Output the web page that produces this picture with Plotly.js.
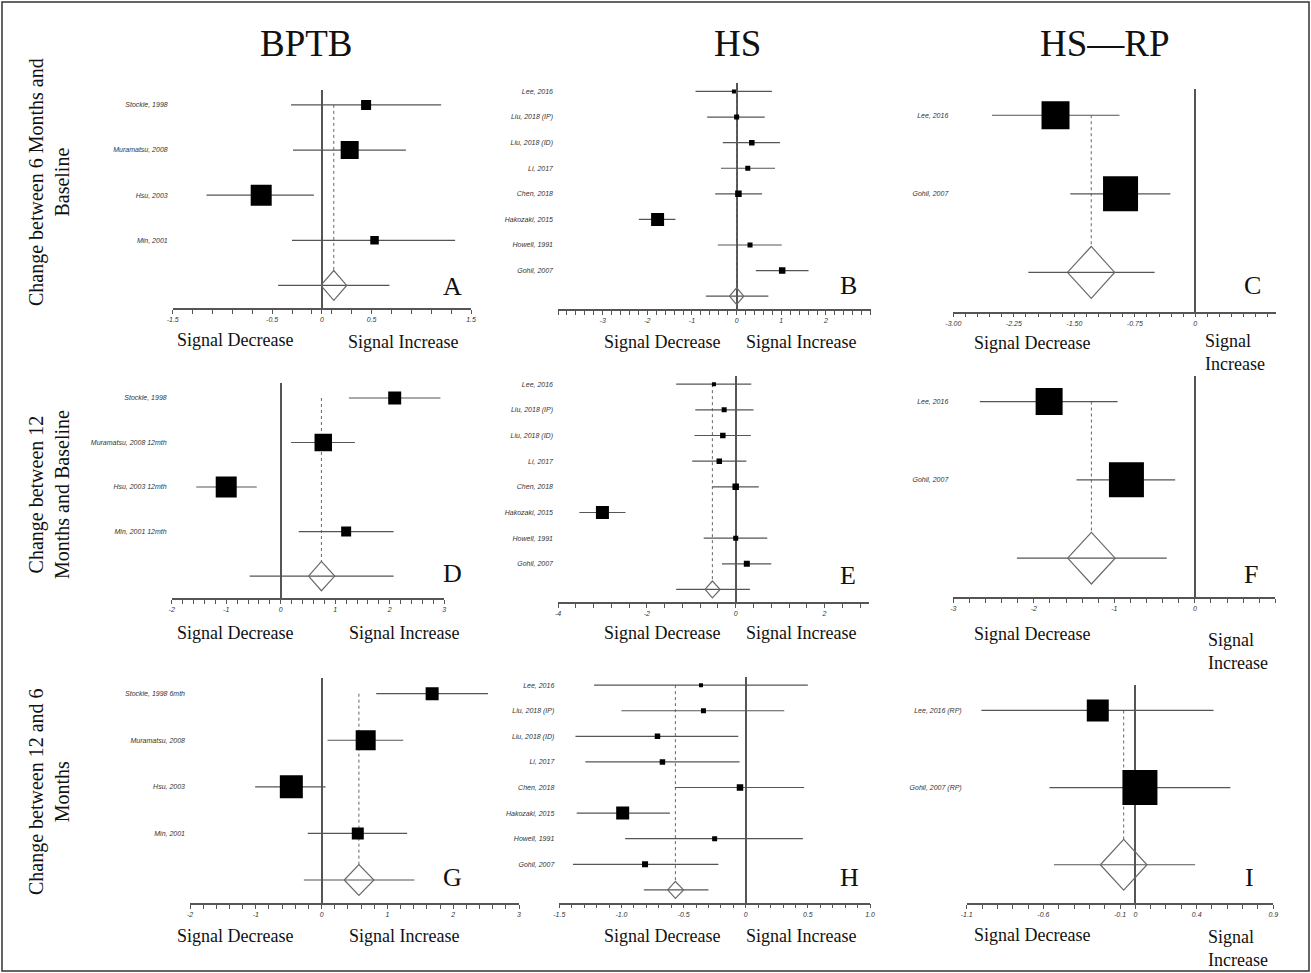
<!DOCTYPE html>
<html>
<head>
<meta charset="utf-8">
<script src="https://cdn.plot.ly/plotly-3.0.1.min.js"></script>
<style>html,body{margin:0;padding:0;background:#fff;}#chart{width:1311px;height:973px;}</style>
</head>
<body>
<div id="chart"></div>
<script>
// ---------------- DATA ----------------
const columnTitles = ["BPTB", "HS", "HS\u2014RP"];
const rowTitles = ["Change between 6 Months and<br>Baseline", "Change between 12<br>Months and Baseline", "Change between 12 and 6<br>Months"];
const panelLetters = ["A","B","C","D","E","F","G","H","I"];

const hsStudies = ["Lee, 2016", "Liu, 2018 (IP)", "Liu, 2018 (ID)", "Li, 2017", "Chen, 2018", "Hakozaki, 2015", "Howell, 1991", "Gohil, 2007"];
const rpStudies = ["Lee, 2016", "Gohil, 2007"];

// Panel A  (BPTB, 6 months vs baseline)
const aStudies = ["Stockle, 1998", "Muramatsu, 2008", "Hsu, 2003", "Min, 2001"];
const aEst = [0.445, 0.28, -0.61, 0.53];
const aLo  = [-0.31, -0.29, -1.16, -0.30];
const aHi  = [1.20, 0.845, -0.08, 1.34];
const aWeight = [10.7, 34.6, 47.1, 7.7];
const aPooled = [0.12, -0.01, 0.25];      // estimate, CI low, CI high
const aInterval = [-0.44, 0.68];
const aTicks = [-1.5, -0.5, 0, 0.5, 1.5];
const aTickText = ["-1.5", "-0.5", "0", "0.5", "1.5"];

// Panel B  (HS, 6 months vs baseline)
const bEst = [-0.06, 0.0, 0.34, 0.25, 0.04, -1.77, 0.30, 1.02];
const bLo  = [-0.92, -0.66, -0.31, -0.35, -0.48, -2.19, -0.42, 0.43];
const bHi  = [0.79, 0.63, 0.97, 0.86, 0.57, -1.37, 1.01, 1.61];
const bWeight = [4.3, 6.7, 8.1, 6.7, 11.3, 45.1, 6.7, 11.3];
const bPooled = [0.0, -0.16, 0.16];
const bInterval = [-0.69, 0.71];
const bTicks = [-3, -2, -1, 0, 1, 2];
const bTickText = ["-3", "-2", "-1", "0", "1", "2"];

// Panel C  (HS-RP, 6 months vs baseline)
const cEst = [-1.733, -0.927];
const cLo  = [-2.52, -1.55];
const cHi  = [-0.94, -0.31];
const cWeight = [39.0, 61.0];
const cPooled = [-1.29, -1.585, -1.0];
const cInterval = [-2.07, -0.505];
const cTicks = [-3, -2.25, -1.5, -0.75, 0];
const cTickText = ["-3.00", "-2.25", "-1.50", "-0.75", "0"];

// Panel D  (BPTB, 12 months vs baseline)
const dStudies = ["Stockle, 1998", "Muramatsu, 2008 12mth", "Hsu, 2003 12mth", "Min, 2001 12mth"];
const dEst = [2.09, 0.78, -1.0, 1.20];
const dLo  = [1.25, 0.19, -1.55, 0.33];
const dHi  = [2.93, 1.36, -0.44, 2.07];
const dWeight = [16.6, 30.1, 43.4, 9.8];
const dPooled = [0.746, 0.51, 0.99];
const dInterval = [-0.57, 2.07];
const dTicks = [-2, -1, 0, 1, 2, 3];
const dTickText = ["-2", "-1", "0", "1", "2", "3"];

// Panel E  (HS, 12 months vs baseline)
const eEst = [-0.49, -0.26, -0.29, -0.37, 0.0, -3.0, 0.0, 0.25];
const eLo  = [-1.34, -0.91, -0.93, -0.98, -0.52, -3.52, -0.72, -0.31];
const eHi  = [0.35, 0.40, 0.34, 0.24, 0.52, -2.48, 0.71, 0.80];
const eWeight = [4.3, 6.7, 8.1, 8.1, 11.3, 45.2, 6.7, 9.6];
const ePooled = [-0.525, -0.69, -0.35];
const eInterval = [-1.34, 0.32];
const eTicks = [-4, -2, 0, 2];
const eTickText = ["-4", "-2", "0", "2"];

// Panel F  (HS-RP, 12 months vs baseline)
const fEst = [-1.81, -0.85];
const fLo  = [-2.67, -1.47];
const fHi  = [-0.96, -0.245];
const fWeight = [37.3, 62.7];
const fPooled = [-1.285, -1.58, -0.99];
const fInterval = [-2.21, -0.35];
const fTicks = [-3, -2, -1, 0];
const fTickText = ["-3", "-2", "-1", "0"];

// Panel G  (BPTB, 12 vs 6 months)
const gStudies = ["Stockle, 1998 6mth", "Muramatsu, 2008", "Hsu, 2003", "Min, 2001"];
const gEst = [1.68, 0.67, -0.46, 0.55];
const gLo  = [0.83, 0.09, -1.01, -0.21];
const gHi  = [2.53, 1.24, 0.06, 1.30];
const gWeight = [13.6, 32.2, 42.6, 11.6];
const gPooled = [0.567, 0.344, 0.795];
const gInterval = [-0.27, 1.41];
const gTicks = [-2, -1, 0, 1, 2, 3];
const gTickText = ["-2", "-1", "0", "1", "2", "3"];

// Panel H  (HS, 12 vs 6 months)
const hEst = [-0.36, -0.34, -0.71, -0.67, -0.046, -0.99, -0.25, -0.81];
const hLo  = [-1.22, -1.0, -1.37, -1.29, -0.57, -1.36, -0.97, -1.39];
const hHi  = [0.50, 0.31, -0.06, -0.05, 0.47, -0.61, 0.46, -0.22];
const hWeight = [4.3, 6.7, 8.1, 8.1, 11.3, 45.2, 6.7, 9.6];
const hPooled = [-0.566, -0.628, -0.50];
const hInterval = [-0.82, -0.30];
const hTicks = [-1.5, -1.0, -0.5, 0, 0.5, 1.0];
const hTickText = ["-1.5", "-1.0", "-0.5", "0", "0.5", "1.0"];

// Panel I  (HS-RP, 12 vs 6 months)
const iStudies = ["Lee, 2016 (RP)", "Gohil, 2007 (RP)"];
const iEst = [-0.245, 0.03];
const iLo  = [-1.004, -0.56];
const iHi  = [0.51, 0.62];
const iWeight = [28.3, 71.7];
const iPooled = [-0.076, -0.228, 0.076];
const iInterval = [-0.53, 0.39];
const iTicks = [-1.1, -0.6, -0.1, 0, 0.4, 0.9];
const iTickText = ["-1.1", "-0.6", "-0.1", "0", "0.4", "0.9"];

// ---------------- LAYOUT / STYLE ----------------
const W = 1311, H = 973;
const px = v => v / W;
const py = v => 1 - v / H;
const SERIF = "Liberation Serif, Times New Roman, serif";
const SANS = "Liberation Sans, Arial, sans-serif";
const GREY = "#555555";

const panels = [
  {studies:aStudies, est:aEst, lo:aLo, hi:aHi, w:aWeight, pooled:aPooled, pi:aInterval, ticks:aTicks, tickText:aTickText,
   box:[172.7,471,90,308], range:[-1.5,1.5], minor:0.2, maxSize:21, letter:[452,287]},
  {studies:hsStudies, est:bEst, lo:bLo, hi:bHi, w:bWeight, pooled:bPooled, pi:bInterval, ticks:bTicks, tickText:bTickText,
   box:[558,870.6,83,309], range:[-4,3], minor:0.2, maxSize:13, letter:[848,285]},
  {studies:rpStudies, est:cEst, lo:cLo, hi:cHi, w:cWeight, pooled:cPooled, pi:cInterval, ticks:cTicks, tickText:cTickText,
   box:[953.3,1276,89.3,311.7], range:[-3,1], minor:0.15, maxSize:35, letter:[1252,285]},
  {studies:dStudies, est:dEst, lo:dLo, hi:dHi, w:dWeight, pooled:dPooled, pi:dInterval, ticks:dTicks, tickText:dTickText,
   box:[171.7,444.3,383.3,598.3], range:[-2,3], minor:0.2, maxSize:21, letter:[452,573]},
  {studies:hsStudies, est:eEst, lo:eLo, hi:eHi, w:eWeight, pooled:ePooled, pi:eInterval, ticks:eTicks, tickText:eTickText,
   box:[558,869,375.7,602.3], range:[-4,3], minor:0.4, maxSize:13, letter:[848,575]},
  {studies:rpStudies, est:fEst, lo:fLo, hi:fHi, w:fWeight, pooled:fPooled, pi:fInterval, ticks:fTicks, tickText:fTickText,
   box:[953.3,1275.4,375.7,597.3], range:[-3,1], minor:0.2, maxSize:35, letter:[1251,574]},
  {studies:gStudies, est:gEst, lo:gLo, hi:gHi, w:gWeight, pooled:gPooled, pi:gInterval, ticks:gTicks, tickText:gTickText,
   box:[190,519,678.3,903.3], range:[-2,3], minor:0.2, maxSize:23, letter:[452,877]},
  {studies:hsStudies, est:hEst, lo:hLo, hi:hHi, w:hWeight, pooled:hPooled, pi:hInterval, ticks:hTicks, tickText:hTickText,
   box:[559.3,870,676.7,902.7], range:[-1.5,1], minor:0.1, maxSize:13, letter:[849,877]},
  {studies:iStudies, est:iEst, lo:iLo, hi:iHi, w:iWeight, pooled:iPooled, pi:iInterval, ticks:iTicks, tickText:iTickText,
   box:[966.7,1273.3,685,903.3], range:[-1.1,0.9], minor:0.1, maxSize:35, letter:[1249,877]}
];

// "Signal Decrease" / "Signal Increase" label positions (pixel centres)
const signalLabels = [
  [234.5,340,"Signal Decrease","center"], [402.5,342,"Signal Increase","center"],
  [661.5,342,"Signal Decrease","center"], [801,342,"Signal Increase","center"],
  [1031.5,343,"Signal Decrease","center"], [1203,352,"Signal<br>Increase","left"],
  [234.5,633,"Signal Decrease","center"], [404,633,"Signal Increase","center"],
  [661.5,633,"Signal Decrease","center"], [801,633,"Signal Increase","center"],
  [1032,634,"Signal Decrease","center"], [1206,651,"Signal<br>Increase","left"],
  [234.5,936,"Signal Decrease","center"], [404,936,"Signal Increase","center"],
  [661.5,936,"Signal Decrease","center"], [801,936,"Signal Increase","center"],
  [1031.5,935,"Signal Decrease","center"], [1206,948,"Signal<br>Increase","left"]
];

const DIAMOND_HALF = 0.33;
const traces = [];
const layout = {
  width: W, height: H,
  margin: {l:0, r:0, t:0, b:0},
  paper_bgcolor: "#fff", plot_bgcolor: "#fff",
  showlegend: false,
  annotations: [], shapes: []
};

const tickFont = {family: SANS, size: 7, color: "#333", style: "italic"};

panels.forEach((p, k) => {
  const n = p.studies.length;
  const sfx = k === 0 ? "" : String(k + 1);
  const xa = "x" + sfx, ya = "y" + sfx;
  const rows = p.studies.map((_, i) => i + 1);
  const sumRow = n + 1;
  const wMax = Math.max(...p.w);

  // axis ticks: labelled ticks plus unlabelled minor positions
  const tv = [], tt = [];
  const steps = Math.round((p.range[1] - p.range[0]) / p.minor);
  for (let s = 0; s <= steps; s++) {
    const v = +(p.range[0] + s * p.minor).toFixed(4);
    if (!p.ticks.some(t => Math.abs(t - v) < 1e-6)) { tv.push(v); tt.push(""); }
  }
  p.ticks.forEach((t, i) => { tv.push(t); tt.push(p.tickText[i]); });

  layout["xaxis" + sfx] = {
    domain: [px(p.box[0]), px(p.box[1])],
    anchor: ya, range: p.range,
    showgrid: false, showline: true, linecolor: GREY, linewidth: 1.5,
    zeroline: true, zerolinecolor: GREY, zerolinewidth: 1.5,
    ticks: "outside", ticklen: 4, tickwidth: 1, tickcolor: GREY,
    tickmode: "array", tickvals: tv, ticktext: tt,
    tickfont: tickFont, fixedrange: true
  };
  layout["yaxis" + sfx] = {
    domain: [py(p.box[3]), py(p.box[2])],
    anchor: xa, range: [sumRow + 0.5, 0.67],
    showgrid: false, showline: false, zeroline: false, ticks: "",
    tickmode: "array", tickvals: rows, ticktext: p.studies,
    tickfont: tickFont, ticklabelstandoff: 4, fixedrange: true
  };

  // prediction interval line of pooled result
  traces.push({type: "scatter", mode: "lines", xaxis: xa, yaxis: ya,
    x: [p.pi[0], p.pi[1]], y: [sumRow, sumRow],
    line: {color: GREY, width: 1.2}, hoverinfo: "skip"});
  // dotted line at pooled estimate
  traces.push({type: "scatter", mode: "lines", xaxis: xa, yaxis: ya,
    x: [p.pooled[0], p.pooled[0]], y: [1, sumRow - DIAMOND_HALF],
    line: {color: "#666", width: 1, dash: "dot"}, hoverinfo: "skip"});
  // pooled diamond
  traces.push({type: "scatter", mode: "lines", xaxis: xa, yaxis: ya,
    x: [p.pooled[1], p.pooled[0], p.pooled[2], p.pooled[0], p.pooled[1]],
    y: [sumRow, sumRow - DIAMOND_HALF, sumRow, sumRow + DIAMOND_HALF, sumRow],
    line: {color: "#6a6a6a", width: 1.2}, hoverinfo: "skip"});
  // studies: squares with CI whiskers
  traces.push({type: "scatter", mode: "markers", xaxis: xa, yaxis: ya,
    x: p.est, y: rows,
    error_x: {type: "data", symmetric: false,
      array: p.hi.map((h, i) => h - p.est[i]),
      arrayminus: p.lo.map((l, i) => p.est[i] - l),
      color: GREY, thickness: 1.2, width: 0},
    marker: {symbol: "square", color: "#000", opacity: 1,
      size: p.w.map(w => p.maxSize * Math.sqrt(w / wMax)),
      line: {width: 0}},
    hoverinfo: "x+y"});

  layout.annotations.push({xref: "paper", yref: "paper", x: px(p.letter[0]), y: py(p.letter[1]),
    text: panelLetters[k], showarrow: false, xanchor: "center", yanchor: "middle",
    font: {family: SERIF, size: 26, color: "#111"}});
});

// column titles
const colX = [306, 737, 1105];
columnTitles.forEach((t, i) => layout.annotations.push({xref: "paper", yref: "paper",
  x: px(colX[i]), y: py(43), text: t, showarrow: false, xanchor: "center", yanchor: "middle",
  font: {family: SERIF, size: 37, color: "#111"}}));

// row titles (rotated)
const rowY = [182, 495, 792];
rowTitles.forEach((t, i) => layout.annotations.push({xref: "paper", yref: "paper",
  x: px(49), y: py(rowY[i]), text: t, textangle: -90, showarrow: false,
  xanchor: "center", yanchor: "middle", align: "center",
  font: {family: SERIF, size: 20, color: "#111"}}));

// signal direction labels
signalLabels.forEach(s => layout.annotations.push({xref: "paper", yref: "paper",
  x: px(s[0]), y: py(s[1]), text: s[2], showarrow: false,
  xanchor: s[3] === "left" ? "left" : "center", yanchor: "middle", align: s[3],
  font: {family: SERIF, size: 18, color: "#111"}}));

// outer frame
layout.shapes.push({type: "rect", xref: "paper", yref: "paper",
  x0: px(2), x1: px(1309), y0: py(971), y1: py(2),
  line: {color: "#333", width: 1.5}, fillcolor: "rgba(0,0,0,0)"});

Plotly.newPlot("chart", traces, layout, {displayModeBar: false});
</script>
</body>
</html>
